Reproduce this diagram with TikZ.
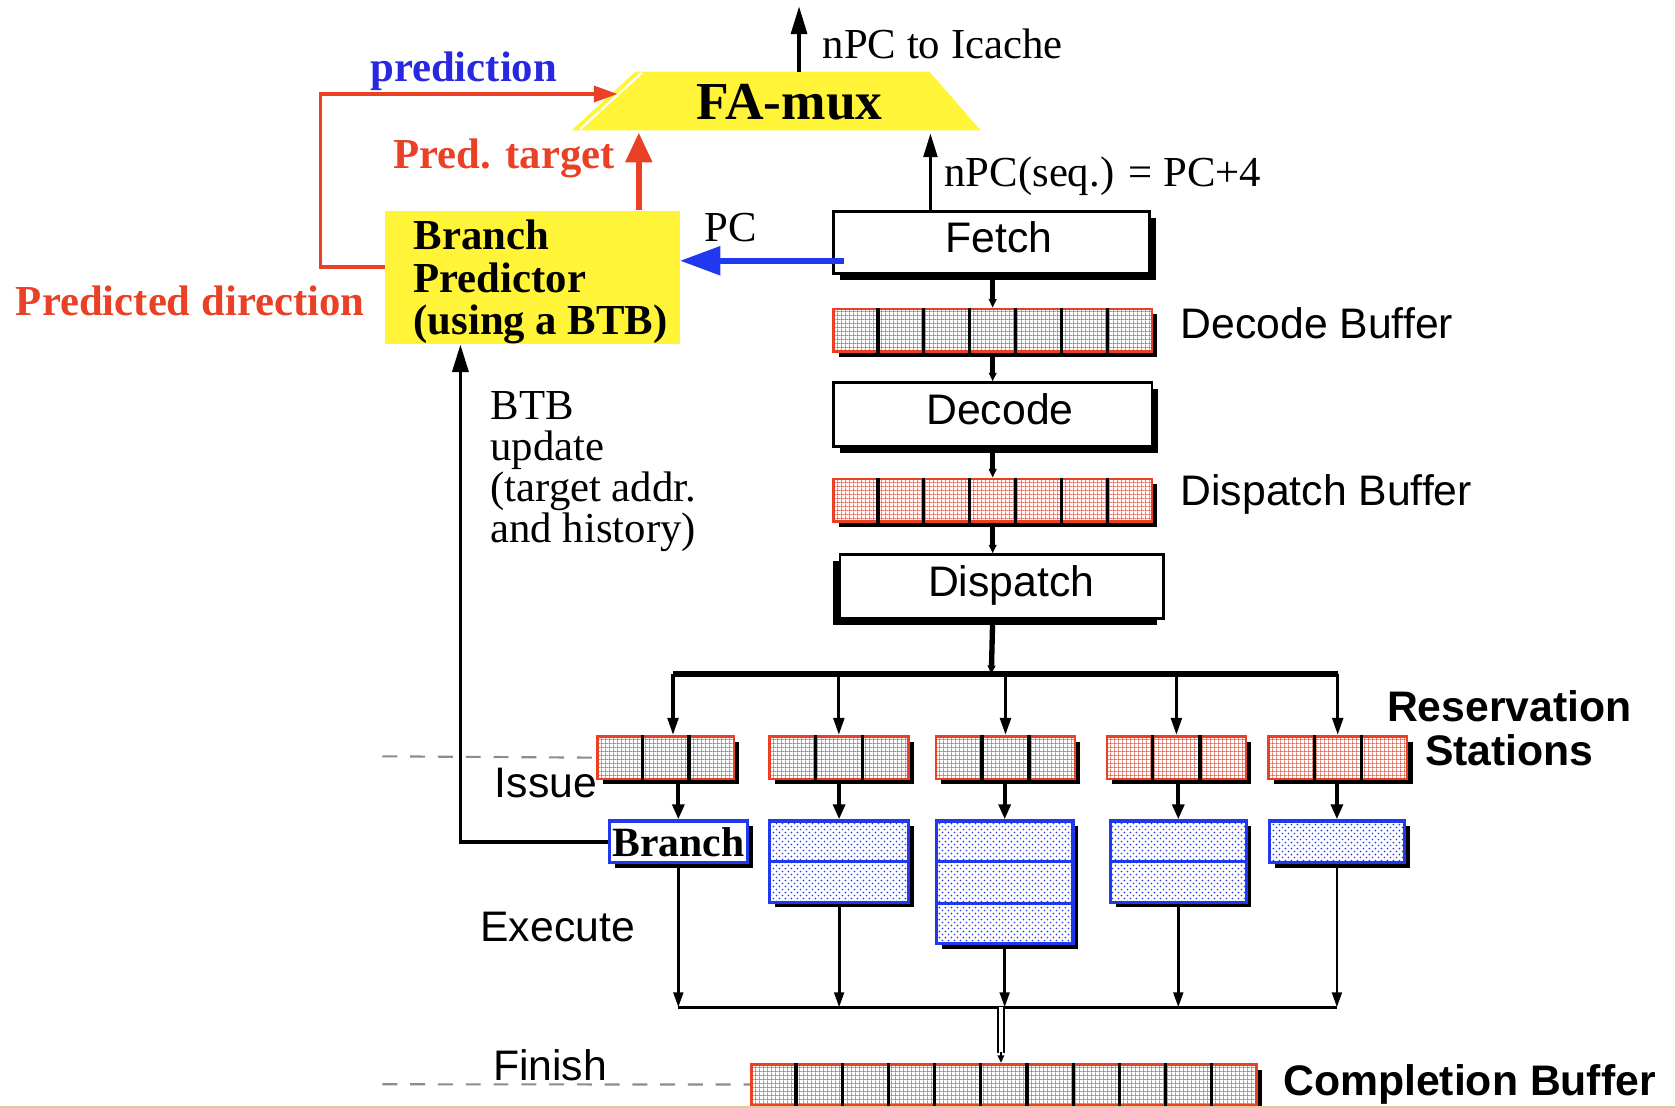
\documentclass[tikz,border=0pt]{standalone}
\usepackage{fontspec}
\setmainfont{Liberation Serif}
\setsansfont{Liberation Sans}
\usetikzlibrary{arrows.meta,shadows,patterns,patterns.meta,calc}

\definecolor{padyellow}{RGB}{255,244,56}
\definecolor{sigred}{RGB}{233,64,38}
\definecolor{sigblue}{RGB}{32,56,240}
\definecolor{txtblue}{RGB}{40,40,225}
\definecolor{edgetan}{RGB}{222,205,150}

% texture of the buffer slots
\tikzdeclarepattern{
  name=bufgrid, type=uncolored,
  bottom left={(0pt,0pt)}, top right={(4pt,4pt)}, tile size={(4pt,4pt)},
  code={\fill (0pt,0pt) rectangle (4pt,0.75pt); \fill (0pt,0pt) rectangle (0.75pt,4pt);}
}
% texture of the functional units
\tikzdeclarepattern{
  name=fudots, type=uncolored,
  bottom left={(0pt,0pt)}, top right={(6pt,6pt)}, tile size={(6pt,6pt)},
  code={\fill (1.5pt,1.5pt) circle (0.95pt); \fill (4.5pt,4.5pt) circle (0.95pt);}
}

\newcommand\sansL{\sffamily\fontsize{40}{40}\selectfont}
\newcommand\sansB{\sffamily\bfseries\fontsize{40}{41}\selectfont}
\newcommand\serifL{\rmfamily\fontsize{40}{38.5}\selectfont}
\newcommand\serifB{\rmfamily\bfseries\fontsize{40}{39.5}\selectfont}
\newcommand\muxfont{\rmfamily\bfseries\fontsize{50}{50}\selectfont}

\tikzset{
  rshadow/.style={drop shadow={shadow xshift=6pt, shadow yshift=-6pt, fill=black, opacity=1}},
  lshadow/.style={drop shadow={shadow xshift=-6pt, shadow yshift=-6pt, fill=black, opacity=1}},
  sshadow/.style={drop shadow={shadow xshift=5pt, shadow yshift=-5pt, fill=black, opacity=1}},
  stagebox/.style={draw=black, line width=2.2pt, fill=white, inner sep=0pt,
    text depth=10pt, anchor=north west, font=\sansL},
  bufbox/.style={sshadow, preaction={fill=white},
    preaction={pattern=bufgrid, pattern color=sigred},
    draw=sigred, line width=2.5pt, inner sep=0pt, anchor=north west, minimum height=40pt},
  fubox/.style={sshadow, preaction={fill=white},
    preaction={pattern=fudots, pattern color=sigblue},
    draw=sigblue, line width=3pt, inner sep=0pt, anchor=north west},
  brbox/.style={sshadow, fill=white, draw=sigblue, line width=3pt, inner sep=0pt,
    anchor=north west, font=\rmfamily\bfseries\fontsize{39}{39}\selectfont},
  predbox/.style={anchor=north west, fill=padyellow, minimum width=276pt,
    minimum height=125pt, inner sep=0pt},
  stubarrow/.style={line width=5pt, -{Triangle[length=8pt,width=7pt]}},
  busdrop/.style={line width=3pt, -{Triangle[length=16pt,width=10pt]}},
  rsarrow/.style={line width=4pt, -{Triangle[length=14pt,width=11pt]}},
  fuarrow/.style={line width=2.6pt, -{Triangle[length=14pt,width=9pt]}},
  btbarrow/.style={line width=3.5pt, -{Triangle[length=26pt,width=15pt]}},
  outarrow/.style={line width=3pt, -{Triangle[length=26pt,width=15pt]}},
  seqarrow/.style={line width=2.5pt, -{Triangle[length=22pt,width=13pt]}},
  predt/.style={sigred, line width=6pt, -{Triangle[length=28pt,width=24pt]}},
  preddir/.style={sigred, line width=3pt, -{Triangle[length=22pt,width=15pt]}},
  pcarrow/.style={sigblue, line width=6pt, -{Triangle[length=38pt,width=26pt]}},
  stagedash/.style={black!45, line width=2pt, dash pattern=on 14pt off 12pt},
}

% vertical slot separators of a buffer: name, slots, slots-1
\newcommand\slotrules[3]{%
  \foreach \k in {1,...,#3}{%
    \draw[line width=3pt] ($(#1.north west)!\k/#2!(#1.north east)$) --
      ($(#1.south west)!\k/#2!(#1.south east)$);}}
% horizontal row separators of a functional unit: name, rows, rows-1
\newcommand\rowrules[3]{%
  \foreach \k in {1,...,#3}{%
    \draw[sigblue, line width=3pt] ($(#1.north west)!\k/#2!(#1.south west)$) --
      ($(#1.north east)!\k/#2!(#1.south east)$);}}

\begin{document}
\begin{tikzpicture}[x=1pt,y=-1pt]
\useasboundingbox (0,0) rectangle (1568,1037);

% fetch-address multiplexer
\fill[padyellow] (535,122) -- (595,67) -- (870,67) -- (918,122) -- cycle;
\draw[white, line width=2pt] (601,68) -- (543,121);
\node[font=\muxfont, inner sep=0pt] (famux) at (739,96) {FA-mux};
\coordinate (fmtop) at (748,67);
\coordinate (icache) at (748,6);
\coordinate (ptgt) at (598,124);
\coordinate (seqin) at (871,125);
\coordinate (pdin) at (578,88);

% branch predictor
\node[predbox] (bp) at (360,197) {};
\node[font=\serifB, anchor=north west, align=left, inner sep=0pt] (bptext) at (387,206)
  {Branch\\Predictor\\(using a BTB)};

% front-end stages and buffers
\node[stagebox, rshadow, minimum width=296pt, minimum height=58pt] (fetch) at (779,197) {\hspace*{14pt}Fetch};
\node[bufbox, minimum width=298pt] (dbuf) at (779,288) {};
\node[stagebox, rshadow, minimum width=298pt, minimum height=60pt] (dec) at (779,357) {\hspace*{14pt}Decode};
\node[bufbox, minimum width=298pt] (pbuf) at (779,447) {};
\node[stagebox, lshadow, minimum width=303pt, minimum height=60pt] (disp) at (785,518) {\hspace*{18pt}Dispatch};
\slotrules{dbuf}{7}{6}
\slotrules{pbuf}{7}{6}

% reservation stations
\node[bufbox, minimum width=128pt] (rs1) at (558,688) {};
\node[bufbox, minimum width=130pt] (rs2) at (719,688) {};
\node[bufbox, minimum width=130pt] (rs3) at (875,688) {};
\node[bufbox, minimum width=130pt] (rs4) at (1035,688) {};
\node[bufbox, minimum width=130pt] (rs5) at (1186,688) {};
\foreach \r in {rs1,rs2,rs3,rs4,rs5}{\slotrules{\r}{3}{2}}

% functional units
\node[brbox, minimum width=129pt, minimum height=39pt] (fu1) at (569,767) {Branch};
\node[fubox, minimum width=130pt, minimum height=76pt] (fu2) at (719,767) {};
\node[fubox, minimum width=128pt, minimum height=115pt] (fu3) at (875,767) {};
\node[fubox, minimum width=127pt, minimum height=76pt] (fu4) at (1038,767) {};
\node[fubox, minimum width=126pt, minimum height=39pt] (fu5) at (1187,767) {};
\rowrules{fu2}{2}{1}
\rowrules{fu3}{3}{2}
\rowrules{fu4}{2}{1}

% completion buffer
\node[bufbox, minimum width=473pt, minimum height=38pt] (cb) at (702,995) {};
\slotrules{cb}{11}{10}

% connectors of the pipeline
\draw[stubarrow] (fetch.south -| dbuf.north) -- (dbuf.north);
\draw[stubarrow] (dbuf.south) -- (dec.north -| dbuf.south);
\draw[stubarrow] (dec.south -| pbuf.north) -- (pbuf.north);
\draw[stubarrow] (pbuf.south) -- (disp.north -| pbuf.south);
\coordinate (bus) at (928,631);
\draw[stubarrow] (disp.south -| pbuf.south) -- (bus);
\coordinate (busL) at (630,631);
\draw[line width=5pt] (busL) -- (rs5.north |- bus);
\draw[busdrop] (busL) -- (busL |- rs1.north);
\foreach \r in {rs2,rs3,rs4,rs5}{\draw[busdrop] (\r.north |- bus) -- (\r.north);}
\draw[rsarrow] (fu1.north |- rs1.south) -- (fu1.north);
\draw[rsarrow] (fu2.north |- rs2.south) -- (fu2.north);
\draw[rsarrow] (fu3.north |- rs3.south) -- (fu3.north);
\draw[rsarrow] (fu4.north |- rs4.south) -- (fu4.north);
\draw[rsarrow] (fu5.north |- rs5.south) -- (fu5.north);
\coordinate (col) at (937,943);
\foreach \f in {fu1,fu2,fu3,fu4,fu5}{\draw[fuarrow] (\f.south) -- (\f.south |- col);}
\draw[line width=2.6pt] (fu1.south |- col) -- (fu5.south |- col);
\draw[line width=1.6pt, double, double distance=4pt] (col) -- ($(cb.north -| col)+(0,-9)$);
\draw[line width=2pt, -{Triangle[length=7pt,width=6pt]}] ($(cb.north -| col)+(0,-10)$) -- (cb.north -| col);

% branch prediction paths
\draw[outarrow] (fmtop) -- (icache);
\draw[seqarrow] (seqin |- fetch.north) -- (seqin);
\draw[predt] (ptgt |- bp.north) -- (ptgt);
\draw[preddir] ($(bp.north west)+(0,53)$) -- ++(-60,0) |- (pdin);
\coordinate (pcs) at ($(fetch.west)+(11,17)$);
\draw[pcarrow] (pcs) -- (bp.east |- pcs);
\draw[btbarrow] (fu1.west) -| ($(bp.south west)+(71,0)$);

% stage boundaries
\coordinate (issueL) at (358,708);
\coordinate (finL) at (358,1015);
\draw[stagedash] (issueL) -- (rs1.west);
\draw[stagedash] (finL) -- (cb.west);

% labels
\node[font=\serifL, anchor=west, inner sep=0pt] (licache) at (770,41) {nPC to Icache};
\node[font=\serifL, anchor=west, inner sep=0pt] (lseq) at (884,165) {nPC(seq.) = PC+4};
\node[font=\serifL, inner sep=0pt] (lpc) at (684,213) {PC};
\node[font=\serifB, text=txtblue, inner sep=0pt] (lpred) at (434,67) {prediction};
\node[font=\serifB, text=sigred, inner sep=0pt] (lptgt) at (472,148) {Pred. target};
\node[font=\serifB, text=sigred, inner sep=0pt] (lpdir) at (178,282) {Predicted direction};
\node[font=\serifL, anchor=north west, align=left, inner sep=0pt] (lbtb) at (459,366)
  {BTB\\update\\(target addr.\\and history)};
\node[font=\sansL, anchor=west, inner sep=0pt] (ldbuf) at (1105,303) {Decode Buffer};
\node[font=\sansL, anchor=west, inner sep=0pt] (lpbuf) at (1105,463) {Dispatch Buffer};
\node[font=\sansB, align=center, inner sep=0pt] (lrs) at (1413,682) {Reservation\\Stations};
\node[font=\sansL, inner sep=0pt] (lissue) at (511,733) {Issue};
\node[font=\sansL, inner sep=0pt] (lexec) at (522,868) {Execute};
\node[font=\sansL, inner sep=0pt] (lfin) at (515,997) {Finish};
\node[font=\sffamily\bfseries\fontsize{40}{40}\selectfont, anchor=west, inner sep=0pt] (lcb) at (1201,1015) {Completion Buffer};

% bottom edge of the slide
\draw[edgetan, line width=1.5pt] (0,1036.2) -- (1568,1036.2);
\end{tikzpicture}
\end{document}
